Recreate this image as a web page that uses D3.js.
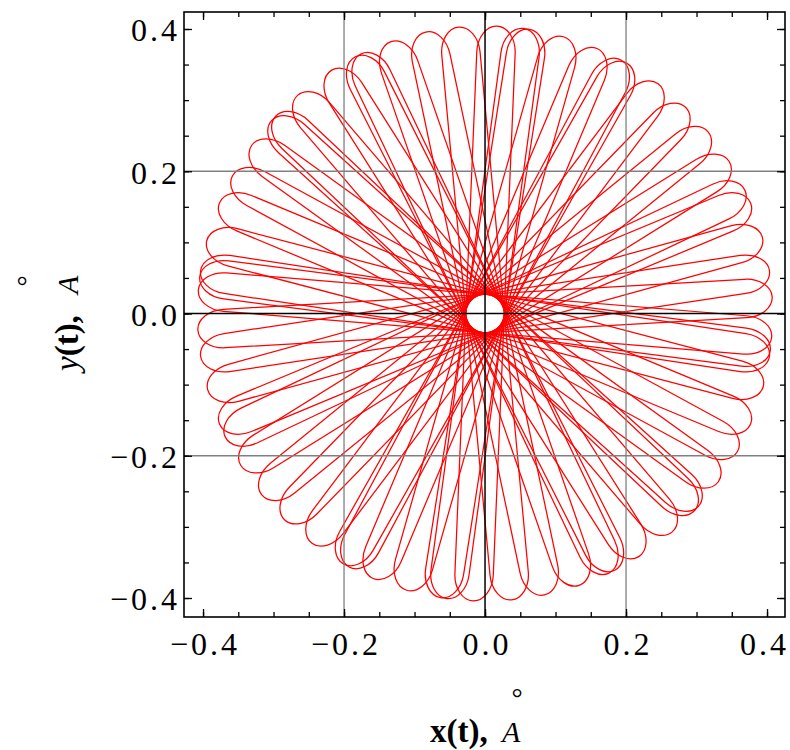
<!DOCTYPE html>
<html>
<head>
<meta charset="utf-8">
<script src="https://cdn.jsdelivr.net/npm/d3@7"></script>
<style>
  body { margin: 0; background: #fff; }
  svg text { font-family: "Liberation Serif", "Times New Roman", serif; fill: #000; }
</style>
</head>
<body>
<div id="chart"></div>
<script>
// every petal runs through the centre and has its twin tip 180 deg away
const petalAngles = [3.3, 8.6, 15.4, 22.6, 25.4, 31.9, 39.1, 45.8, 53.0, 60.5, 61.8, 67.1,
    74.2, 81.1, 82.3, 87.6, 95.3, 101.9, 109.1, 115.5, 116.8, 122.3, 130.6, 136.7,
    137.9, 144.2, 151.4, 157.4, 165.3, 171.4, 172.6, 175.3]
const tipRadius = [0.408]    // Å, how far the petals reach
const holeRadius = [0.027]   // Å, empty disc in the middle

const majorTicks = [-0.4, -0.2, 0.0, 0.2, 0.4]
const minorTicks = [-0.4, -0.35, -0.3, -0.25, -0.2, -0.15, -0.1, -0.05, 0,
    0.05, 0.1, 0.15, 0.2, 0.25, 0.3, 0.35, 0.4]
const gridValues = [-0.2, 0.2]

const W = 790, H = 750
const x = d3.scaleLinear().domain([-0.427, 0.4255]).range([184, 785])
const y = d3.scaleLinear().domain([-0.4267, 0.4239]).range([617, 12])

const svg = d3.select('#chart')
    .append('svg')
    .attr('width', W)
    .attr('height', H)

svg.append('defs').append('clipPath')
    .attr('id', 'plot-clip')
    .append('rect')
    .attr('x', x.range()[0]).attr('y', y.range()[1])
    .attr('width', x.range()[1] - x.range()[0])
    .attr('height', y.range()[0] - y.range()[1])

const cx = x(0), cy = y(0)
const a = tipRadius[0], b = holeRadius[0]

// petals
svg.append('g')
    .attr('clip-path', 'url(#plot-clip)')
    .selectAll('rect')
    .data(petalAngles)
    .join('rect')
    .attr('x', x(-a))
    .attr('y', y(b))
    .attr('width', x(a) - x(-a))
    .attr('height', y(-b) - y(b))
    .attr('rx', (x(b) - x(0)) * 1.4)
    .attr('ry', y(0) - y(b))
    .attr('transform', d => `rotate(${-d}, ${cx}, ${cy})`)
    .attr('fill', 'none')
    .attr('stroke', '#ff0000')
    .attr('stroke-width', 1.25)

// grid lines
const grid = svg.append('g')
grid.selectAll('.gx').data(gridValues).join('line')
    .attr('x1', d => x(d)).attr('x2', d => x(d))
    .attr('y1', y.range()[0]).attr('y2', y.range()[1])
    .attr('stroke', '#808080').attr('stroke-width', 1.3)
grid.selectAll('.gy').data(gridValues).join('line')
    .attr('y1', d => y(d)).attr('y2', d => y(d))
    .attr('x1', x.range()[0]).attr('x2', x.range()[1])
    .attr('stroke', '#808080').attr('stroke-width', 1.3)
grid.append('line')
    .attr('x1', cx).attr('x2', cx)
    .attr('y1', y.range()[0]).attr('y2', y.range()[1])
    .attr('stroke', '#000').attr('stroke-width', 1.5)
grid.append('line')
    .attr('y1', cy).attr('y2', cy)
    .attr('x1', x.range()[0]).attr('x2', x.range()[1])
    .attr('stroke', '#000').attr('stroke-width', 1.5)

// ticks (inside, all four sides)
const fmt = d3.format('.1f')
function styleAxis(g) {
    g.select('.domain').remove()
    g.selectAll('.tick line').attr('stroke', '#000').attr('stroke-width', 1.3)
    g.selectAll('text')
        .attr('font-size', 32)
        .attr('letter-spacing', '3px')
}

svg.append('g')
    .attr('transform', `translate(0,${y.range()[0]})`)
    .call(d3.axisBottom(x).tickValues(minorTicks).tickSize(-5).tickFormat(''))
    .call(styleAxis)
svg.append('g')
    .attr('transform', `translate(0,${y.range()[0]})`)
    .call(d3.axisBottom(x).tickValues(majorTicks).tickSize(-8).tickPadding(15).tickFormat(fmt))
    .call(styleAxis)
    .call(g => g.selectAll('text').attr('dx', d => d === 0.4 ? '-3px' : '1.5px'))

svg.append('g')
    .attr('transform', `translate(${x.range()[0]},0)`)
    .call(d3.axisLeft(y).tickValues(minorTicks).tickSize(-5).tickFormat(''))
    .call(styleAxis)
svg.append('g')
    .attr('transform', `translate(${x.range()[0]},0)`)
    .call(d3.axisLeft(y).tickValues(majorTicks).tickSize(-8).tickPadding(7).tickFormat(fmt))
    .call(styleAxis)
    .call(g => g.selectAll('text').attr('dy', '0.37em').attr('dx', '3px'))

svg.append('g')
    .attr('transform', `translate(0,${y.range()[1]})`)
    .call(d3.axisTop(x).tickValues(minorTicks).tickSize(-5).tickFormat(''))
    .call(styleAxis)
svg.append('g')
    .attr('transform', `translate(0,${y.range()[1]})`)
    .call(d3.axisTop(x).tickValues(majorTicks).tickSize(-8).tickFormat(''))
    .call(styleAxis)
svg.append('g')
    .attr('transform', `translate(${x.range()[1]},0)`)
    .call(d3.axisRight(y).tickValues(minorTicks).tickSize(-5).tickFormat(''))
    .call(styleAxis)
svg.append('g')
    .attr('transform', `translate(${x.range()[1]},0)`)
    .call(d3.axisRight(y).tickValues(majorTicks).tickSize(-8).tickFormat(''))
    .call(styleAxis)

// frame
svg.append('rect')
    .attr('x', x.range()[0]).attr('y', y.range()[1])
    .attr('width', x.range()[1] - x.range()[0])
    .attr('height', y.range()[0] - y.range()[1])
    .attr('fill', 'none')
    .attr('stroke', '#000')
    .attr('stroke-width', 1.6)

// axis titles
const xt = svg.append('g')
xt.append('text')
    .attr('x', 430).attr('y', 742)
    .attr('font-size', 33).attr('font-weight', 'bold')
    .text('x(t),')
xt.append('text')
    .attr('x', 502).attr('y', 742)
    .attr('font-size', 30).attr('font-style', 'italic')
    .text('A')
xt.append('text')
    .attr('x', 517).attr('y', 707)
    .attr('text-anchor', 'middle')
    .attr('font-size', 28)
    .text('°')

const yt = svg.append('g')
    .attr('transform', 'translate(78,321) rotate(-90)')
const ylab = yt.append('text')
    .attr('x', -50).attr('y', 0)
    .attr('font-size', 33)
ylab.append('tspan').attr('font-style', 'italic').text('y')
ylab.append('tspan').attr('font-weight', 'bold').text('(t),')
yt.append('text')
    .attr('x', 27).attr('y', 0)
    .attr('font-size', 30).attr('font-style', 'italic')
    .text('A')
yt.append('text')
    .attr('x', 40).attr('y', -42)
    .attr('text-anchor', 'middle')
    .attr('font-size', 28)
    .text('°')
</script>
</body>
</html>
